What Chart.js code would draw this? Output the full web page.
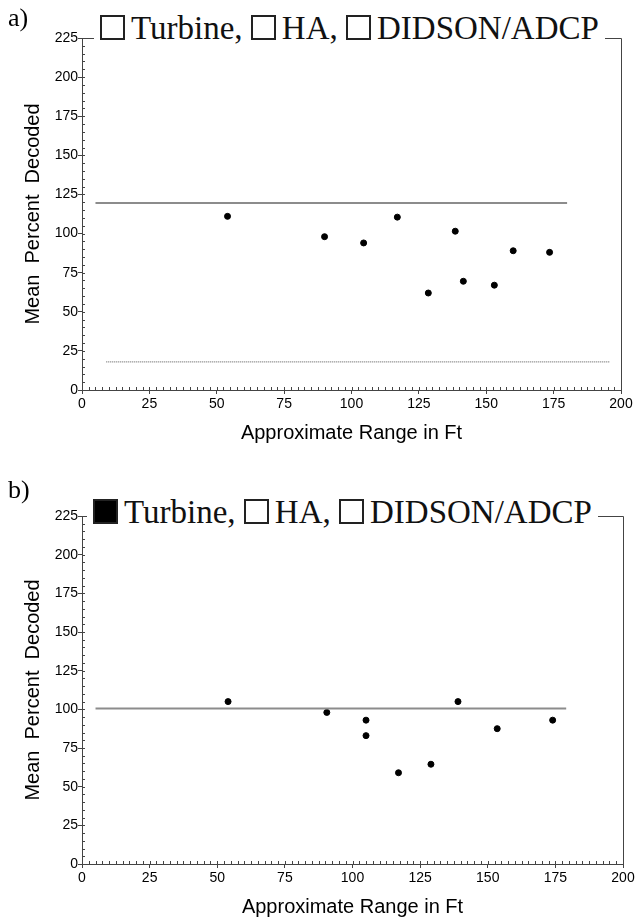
<!DOCTYPE html>
<html>
<head>
<meta charset="utf-8">
<script src="https://cdn.jsdelivr.net/npm/chart.js@4"></script>
<style>
  body { margin: 0; background: #fff; width: 637px; height: 923px; position: relative; overflow: hidden; }
  .panel { position: absolute; left: 0; width: 637px; }
  .tag { position: absolute; left: 8px; font: 26px "Liberation Serif", serif; color: #000; z-index: 2; }
  .legend { position: absolute; background: #fff; font: 33px "Liberation Serif", serif; color: #111;
            white-space: nowrap; z-index: 2; padding: 0 6px; line-height: 36px; }
  .box { display: inline-block; width: 21px; height: 21px; border: 2px solid #222; vertical-align: -1px; margin-right: 6px; }
  .box.on { background: #000; }
</style>
</head>
<body>
<div class="panel" style="top:0;height:460px">
  <canvas id="chartA" width="637" height="460"></canvas>
</div>
<div class="panel" style="top:460px;height:463px">
  <canvas id="chartB" width="637" height="463"></canvas>
</div>
<div class="tag" style="top:3px">a)</div>
<div class="legend" style="left:94px;top:10px"><span class="box"></span>Turbine, <span class="box"></span>HA, <span class="box"></span>DIDSON/ADCP</div>
<div class="tag" style="top:475px">b)</div>
<div class="legend" style="left:87px;top:494px"><span class="box on"></span>Turbine, <span class="box"></span>HA, <span class="box"></span>DIDSON/ADCP</div>

<script>
// ==============================
//  DATA
// ==============================
const X_TICKS = [0, 25, 50, 75, 100, 125, 150, 175, 200];
const Y_TICKS = [0, 25, 50, 75, 100, 125, 150, 175, 200, 225];

// panel a
const rangeA = [54, 90, 104.5, 117, 128.5, 138.5, 141.5, 153, 160, 173.5];
const pctA   = [111, 98, 94, 110.5, 62, 101.5, 69.5, 67, 89, 88];
const upperA_x = [5, 180];
const upperA_y = [119.5, 119.5];
const lowerA_x = [9, 196];
const lowerA_y = [18, 18];

// panel b
const rangeB = [54, 90.5, 105, 105, 117, 129, 139, 153.5, 174];
const pctB   = [105, 98, 93, 83, 59, 64.5, 105, 87.5, 93];
const meanB_x = [5, 179];
const meanB_y = [100.5, 100.5];

// ==============================
//  HELPERS
// ==============================
const pts = (xs, ys) => xs.map((x, i) => ({ x, y: ys[i] }));

function lineSet(xs, ys, dash) {
  return {
    data: pts(xs, ys),
    showLine: true,
    borderColor: '#8c8c8c',
    borderWidth: dash ? 1.5 : 2,
    borderDash: dash ? [1, 1] : [],
    pointRadius: 0,
    fill: false,
  };
}

function dotSet(xs, ys) {
  return {
    data: pts(xs, ys),
    backgroundColor: '#000',
    borderColor: '#000',
    pointRadius: 3,
    showLine: false,
  };
}

// frame (right + top) and minor ticks
const framePlugin = {
  id: 'frame',
  afterDraw(chart) {
    const { ctx, chartArea: a, scales: { x, y } } = chart;
    ctx.save();
    ctx.strokeStyle = '#444';
    ctx.lineWidth = 1;
    ctx.beginPath();
    ctx.moveTo(a.left, a.top + 0.5);
    ctx.lineTo(a.right + 0.5, a.top + 0.5);
    ctx.lineTo(a.right + 0.5, a.bottom);
    ctx.stroke();
    ctx.beginPath();
    for (let v = 0; v <= 200; v += 2.5) {
      const px = Math.round(x.getPixelForValue(v)) + 0.5;
      ctx.moveTo(px, a.bottom);
      ctx.lineTo(px, a.bottom - 3);
    }
    for (let v = 0; v <= 225; v += 5) {
      const py = Math.round(y.getPixelForValue(v)) + 0.5;
      ctx.moveTo(a.left, py);
      ctx.lineTo(a.left + 3, py);
    }
    ctx.stroke();
    ctx.restore();
  }
};

function makeChart(id, datasets, pad, xHeight, xTitlePad) {
  const tickFont = { family: '"Liberation Sans", Arial, sans-serif', size: 14 };
  const titleFont = { family: '"Liberation Sans", Arial, sans-serif', size: 20 };
  return new Chart(document.getElementById(id), {
    type: 'scatter',
    data: { datasets },
    options: {
      responsive: false,
      animation: false,
      layout: { padding: pad },
      plugins: { legend: { display: false }, tooltip: { enabled: false } },
      scales: {
        x: {
          type: 'linear', min: 0, max: 200,
          afterBuildTicks: s => { s.ticks = X_TICKS.map(v => ({ value: v })); },
          afterFit: s => { s.height = xHeight; },
          grid: { drawOnChartArea: false, tickLength: 4, color: '#444' },
          border: { color: '#444', width: 1 },
          ticks: { font: tickFont, color: '#000', padding: 2, maxRotation: 0 },
          title: {
            display: true, text: 'Approximate Range in Ft', color: '#000',
            font: titleFont,
            padding: { top: 0, bottom: xTitlePad }
          }
        },
        y: {
          type: 'linear', min: 0, max: 225,
          afterBuildTicks: s => { s.ticks = Y_TICKS.map(v => ({ value: v })); },
          afterFit: s => { s.width = 82; },
          grid: { drawOnChartArea: false, tickLength: 4, color: '#444' },
          border: { color: '#444', width: 1 },
          ticks: { font: tickFont, color: '#000', padding: 0 },
          title: {
            display: true, text: 'Mean  Percent  Decoded', color: '#000',
            font: titleFont,
            padding: { top: 21, bottom: 0 }
          }
        }
      }
    },
    plugins: [framePlugin]
  });
}

// ==============================
//  CHARTS
// ==============================
makeChart('chartA', [
  lineSet(upperA_x, upperA_y, false),
  lineSet(lowerA_x, lowerA_y, true),
  dotSet(rangeA, pctA),
], { top: 38, right: 16, left: 0, bottom: 0 }, 70, 15);

makeChart('chartB', [
  lineSet(meanB_x, meanB_y, false),
  dotSet(rangeB, pctB),
], { top: 56, right: 14, left: 0, bottom: 0 }, 59, 4);
</script>
</body>
</html>
